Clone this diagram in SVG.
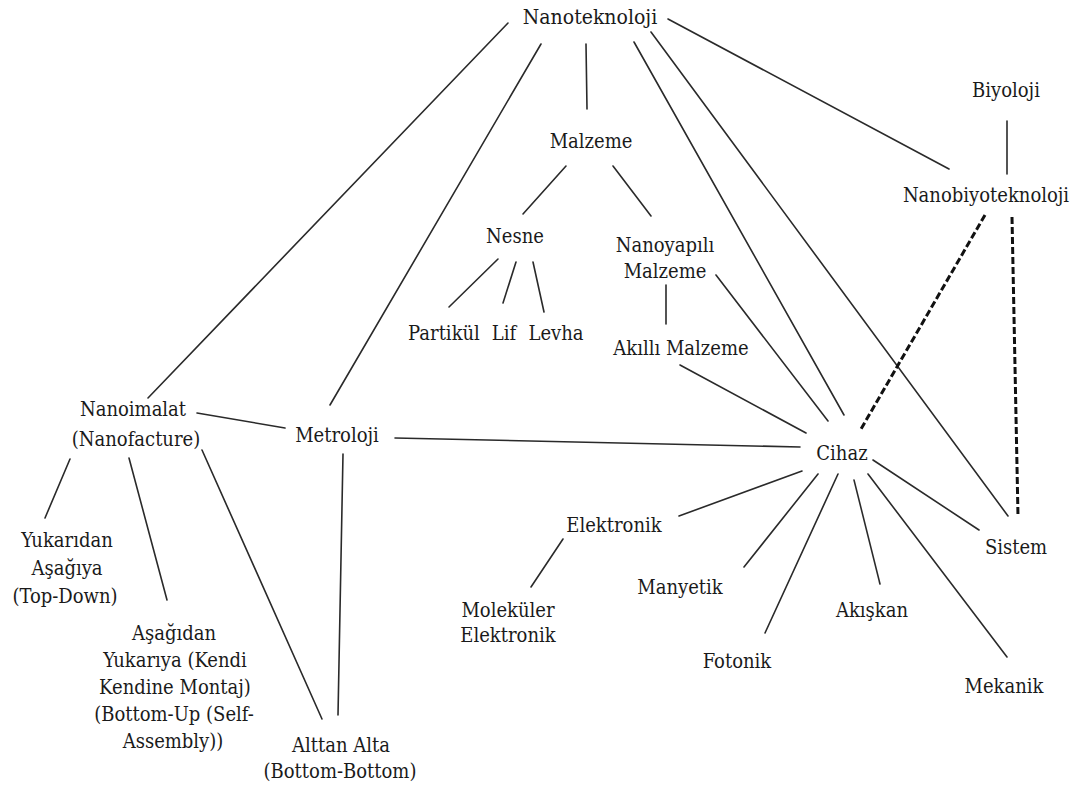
<svg xmlns="http://www.w3.org/2000/svg" width="1078" height="785" viewBox="0 0 1078 785">
  <style>
    .bg { fill: #ffffff; }
    .lbl { font-family: "DejaVu Serif Condensed", "DejaVu Serif", serif; font-stretch: condensed; font-size: 20px; fill: #1a1a1a; text-anchor: middle; }
    .top { font-size: 21px; }
    .ln { stroke: #2a2a2a; stroke-width: 1.6; fill: none; stroke-linecap: round; }
    .dash { stroke: #111111; stroke-width: 3; fill: none; stroke-dasharray: 7 3; }
  </style>
  <rect class="bg" x="0" y="0" width="1078" height="785"/>

  <g id="connectors">
    <!-- from Nanoteknoloji -->
    <line class="ln" x1="508" y1="23" x2="148" y2="398"/>
    <line class="ln" x1="541" y1="44" x2="330" y2="405"/>
    <line class="ln" x1="586" y1="44" x2="587" y2="109"/>
    <line class="ln" x1="634" y1="42" x2="844" y2="415"/>
    <line class="ln" x1="651" y1="32" x2="1008" y2="516"/>
    <line class="ln" x1="668" y1="19" x2="949" y2="169"/>
    <!-- Malzeme branch -->
    <line class="ln" x1="566" y1="166" x2="523" y2="214"/>
    <line class="ln" x1="613" y1="166" x2="651" y2="216"/>
    <line class="ln" x1="498" y1="259" x2="449" y2="307"/>
    <line class="ln" x1="516" y1="262" x2="503" y2="303"/>
    <line class="ln" x1="533" y1="262" x2="544" y2="312"/>
    <line class="ln" x1="666" y1="285" x2="666" y2="324"/>
    <line class="ln" x1="716" y1="275" x2="828" y2="421"/>
    <line class="ln" x1="680" y1="365" x2="806" y2="433"/>
    <!-- Metroloji / Nanoimalat -->
    <line class="ln" x1="395" y1="438" x2="800" y2="447"/>
    <line class="ln" x1="197" y1="413" x2="285" y2="428"/>
    <line class="ln" x1="343" y1="454" x2="338" y2="715"/>
    <line class="ln" x1="202" y1="450" x2="322" y2="719"/>
    <line class="ln" x1="70" y1="459" x2="45" y2="518"/>
    <line class="ln" x1="129" y1="458" x2="167" y2="600"/>
    <!-- Cihaz branch -->
    <line class="ln" x1="679" y1="516" x2="802" y2="471"/>
    <line class="ln" x1="563" y1="539" x2="531" y2="587"/>
    <line class="ln" x1="744" y1="567" x2="818" y2="474"/>
    <line class="ln" x1="765" y1="633" x2="838" y2="474"/>
    <line class="ln" x1="854" y1="480" x2="880" y2="584"/>
    <line class="ln" x1="868" y1="474" x2="1007" y2="657"/>
    <line class="ln" x1="873" y1="460" x2="979" y2="530"/>
    <!-- Biyoloji / Nanobiyoteknoloji -->
    <line class="ln" x1="1007" y1="121" x2="1007" y2="174"/>
    <line class="dash" x1="1012" y1="217" x2="1018" y2="516"/>
    <line class="dash" x1="985" y1="215" x2="861" y2="429"/>
  </g>

  <g class="lbl">
    <g id="nanoteknoloji"><text class="top" x="590" y="24">Nanoteknoloji</text></g>
    <g id="malzeme"><text x="591" y="148">Malzeme</text></g>
    <g id="nesne"><text x="515" y="243">Nesne</text></g>
    <g id="nanoyapili-malzeme"><text x="665" y="252">Nanoyapılı</text><text x="665" y="278">Malzeme</text></g>
    <g id="partikul"><text x="444" y="340">Partikül</text></g>
    <g id="lif"><text x="504" y="340">Lif</text></g>
    <g id="levha"><text x="556" y="340">Levha</text></g>
    <g id="akilli-malzeme"><text x="681" y="355">Akıllı Malzeme</text></g>
    <g id="biyoloji"><text x="1006" y="97">Biyoloji</text></g>
    <g id="nanobiyoteknoloji"><text x="986" y="202">Nanobiyoteknoloji</text></g>
    <g id="nanoimalat"><text x="133" y="416">Nanoimalat</text><text x="136" y="446">(Nanofacture)</text></g>
    <g id="metroloji"><text x="337" y="442">Metroloji</text></g>
    <g id="cihaz"><text x="842" y="460">Cihaz</text></g>
    <g id="yukaridan"><text x="67" y="547">Yukarıdan</text><text x="67" y="575">Aşağıya</text><text x="65" y="603">(Top-Down)</text></g>
    <g id="asagidan"><text x="174" y="640">Aşağıdan</text><text x="175" y="667">Yukarıya (Kendi</text><text x="175" y="694">Kendine Montaj)</text><text x="174" y="721">(Bottom-Up (Self-</text><text x="173" y="748">Assembly))</text></g>
    <g id="alttan-alta"><text x="341" y="752">Alttan Alta</text><text x="340" y="778">(Bottom-Bottom)</text></g>
    <g id="elektronik"><text x="614" y="532">Elektronik</text></g>
    <g id="molekuler-elektronik"><text x="508" y="617">Moleküler</text><text x="508" y="642">Elektronik</text></g>
    <g id="manyetik"><text x="680" y="594">Manyetik</text></g>
    <g id="fotonik"><text x="737" y="668">Fotonik</text></g>
    <g id="akiskan"><text x="872" y="617">Akışkan</text></g>
    <g id="mekanik"><text x="1004" y="693">Mekanik</text></g>
    <g id="sistem"><text x="1016" y="554">Sistem</text></g>
  </g>
</svg>
